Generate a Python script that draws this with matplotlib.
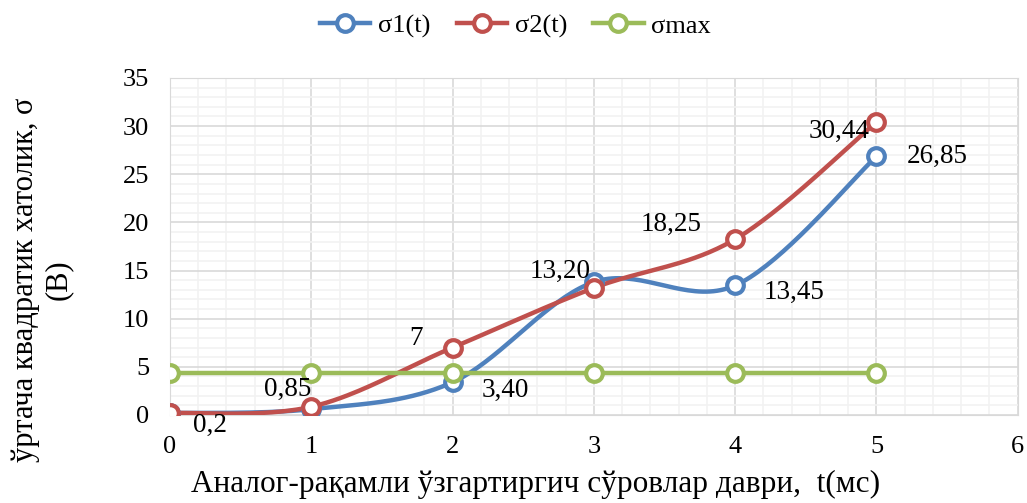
import numpy as np
import matplotlib
matplotlib.use("Agg")
import matplotlib.pyplot as plt
from matplotlib.ticker import MultipleLocator

plt.rcParams["font.family"] = ["Liberation Serif", "DejaVu Serif"]

t = [0, 1, 2, 3, 4, 5]
sigma1 = [0.2, 0.6, 3.40, 13.8, 13.45, 26.85]
sigma2 = [0.2, 0.85, 7, 13.20, 18.25, 30.44]
sigma_max = [4.4, 4.4, 4.4, 4.4, 4.4, 4.4]

labels1 = ["0,2", "", "3,40", "", "13,45", "26,85"]
labels2 = ["", "0,85", "7", "13,20", "18,25", "30,44"]
# label offsets in pixels (excel put them by hand)
off1 = [(23, -12), (0, 0), (29, -8), (0, 0), (28, -7), (30, 0)]
off2 = [(0, 0), (0, 17), (-30, 9), (-3, 16), (-34, 15), (-7, -10)]


def smooth(x, y, n=40):
    # excel-like bezier smoothing
    x = np.asarray(x, float)
    y = np.asarray(y, float)
    px = np.concatenate([[x[0]], x, [x[-1]]])
    py = np.concatenate([[y[0]], y, [y[-1]]])
    xs, ys = [], []
    for i in range(1, len(px) - 2):
        p0 = np.array([px[i - 1], py[i - 1]])
        p1 = np.array([px[i], py[i]])
        p2 = np.array([px[i + 1], py[i + 1]])
        p3 = np.array([px[i + 2], py[i + 2]])
        c1 = p1 + (p2 - p0) / 6
        c2 = p2 - (p3 - p1) / 6
        s = np.linspace(0, 1, n)[:, None]
        b = (1 - s) ** 3 * p1 + 3 * (1 - s) ** 2 * s * c1 + 3 * (1 - s) * s ** 2 * c2 + s ** 3 * p2
        xs.extend(b[:, 0])
        ys.extend(b[:, 1])
    return xs, ys


blue = "#4F81BD"
red = "#C0504D"
green = "#9BBB59"

fig = plt.figure(figsize=(10.27, 5.03), dpi=100)
ax = fig.add_axes([0.1655, 0.175, 0.8255, 0.670])

ax.set_xlim(0, 6)
ax.set_ylim(0, 35)
ax.xaxis.set_major_locator(MultipleLocator(1))
ax.xaxis.set_minor_locator(MultipleLocator(0.2))
ax.yaxis.set_major_locator(MultipleLocator(5))
ax.yaxis.set_minor_locator(MultipleLocator(1))
ax.grid(which="minor", color="#f2f2f2", lw=1.2)
ax.grid(which="major", color="#d9d9d9", lw=1.2)
ax.set_axisbelow(True)
ax.tick_params(which="both", length=0, labelsize=19)
ax.tick_params(axis="x", pad=15)
ax.tick_params(axis="y", pad=15)
for s in ax.spines.values():
    s.set_color("#d9d9d9")

mk = dict(marker="o", ms=12, mfc="white", mew=3)
for y, c, name in [(sigma1, blue, "σ1(t)"), (sigma2, red, "σ2(t)"), (sigma_max, green, "σmax")]:
    sx, sy = smooth(t, y)
    ax.plot(sx, sy, color=c, lw=3.2, solid_capstyle="round", zorder=3)
    ax.plot(t, y, ls="none", color=c, mec=c, zorder=4, **mk)
    ax.plot([], [], color=c, lw=3.2, label=name, mec=c, **mk)

for x, y, l, o in zip(t, sigma1, labels1, off1):
    if l:
        ax.annotate(l, (x, y), xytext=o, textcoords="offset pixels",
                    fontsize=19.5, va="center", ha="left", zorder=5)
for x, y, l, o in zip(t, sigma2, labels2, off2):
    if l:
        ax.annotate(l, (x, y), xytext=o, textcoords="offset pixels",
                    fontsize=19.5, va="center", ha="right", zorder=5)

fig.text(0.521, 0.036, "Аналог-рақамли ўзгартиргич сўровлар даври,  t(мс)",
         fontsize=22.5, ha="center", va="center")
fig.text(0.041, 0.443, "ўртача квадратик хатолик, σ\n(В)", fontsize=22,
         rotation=90, ha="center", va="center", multialignment="center", linespacing=1.2)

fig.legend(loc="center", bbox_to_anchor=(515.5 / 1027, 0.948), ncol=3, frameon=False,
           fontsize=19, handlelength=1.9, columnspacing=1.0, handletextpad=0.3)

fig.savefig("out.png", dpi=100)
